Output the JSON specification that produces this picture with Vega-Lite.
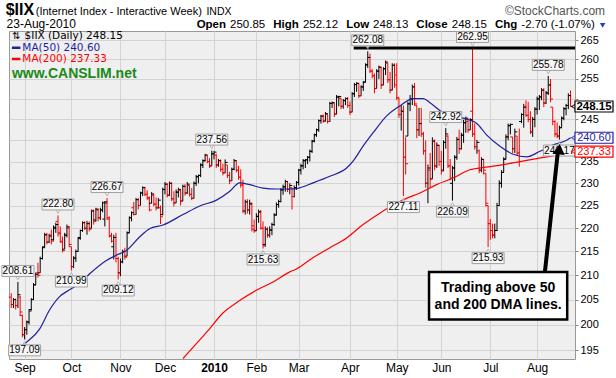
{
"$schema":"https://vega.github.io/schema/vega-lite/v6.json",
"width":566,"height":328,
"autosize":{"type":"none"},
"padding":{"left":9,"top":31,"right":41,"bottom":19},
"background":"#ffffff",
"config":{
 "view":{"fill":"#efefef","stroke":"#999999"},
 "axis":{"gridColor":"#d3d3d3","domain":false,"labelFont":"Liberation Sans","labelColor":"#000000","title":null},
 "text":{"font":"Liberation Sans"}
},
"datasets":{
"px":[
{"i":0,"o":205.5,"h":206.3,"l":203.3,"c":204.0},
{"i":1,"o":204.0,"h":205.3,"l":203.3,"c":205.0},
{"i":2,"o":205.0,"h":205.2,"l":203.0,"c":203.8},
{"i":3,"o":203.8,"h":208.61,"l":203.3,"c":206.0},
{"i":4,"o":205.5,"h":205.8,"l":201.7,"c":202.5},
{"i":5,"o":201.8,"h":202.0,"l":197.5,"c":198.0},
{"i":6,"o":198.0,"h":199.5,"l":197.09,"c":199.0},
{"i":7,"o":199.0,"h":200.8,"l":198.0,"c":200.5},
{"i":8,"o":200.5,"h":203.0,"l":200.0,"c":202.7},
{"i":9,"o":203.0,"h":205.3,"l":202.8,"c":205.0},
{"i":10,"o":205.0,"h":208.4,"l":205.0,"c":208.0},
{"i":11,"o":208.0,"h":210.5,"l":208.0,"c":210.2},
{"i":12,"o":210.5,"h":212.6,"l":209.5,"c":210.0},
{"i":13,"o":210.5,"h":213.9,"l":210.5,"c":213.5},
{"i":14,"o":213.5,"h":216.0,"l":213.3,"c":215.8},
{"i":15,"o":216.0,"h":219.0,"l":215.8,"c":218.6},
{"i":16,"o":218.5,"h":219.0,"l":216.5,"c":217.0},
{"i":17,"o":217.0,"h":218.8,"l":216.8,"c":218.3},
{"i":18,"o":218.5,"h":219.7,"l":216.5,"c":217.2},
{"i":19,"o":217.5,"h":220.6,"l":217.3,"c":220.2},
{"i":20,"o":220.0,"h":221.2,"l":219.0,"c":220.8},
{"i":21,"o":221.5,"h":222.8,"l":218.2,"c":218.8},
{"i":22,"o":219.0,"h":220.4,"l":216.9,"c":217.2},
{"i":23,"o":217.0,"h":218.2,"l":214.8,"c":215.2},
{"i":24,"o":215.5,"h":219.0,"l":215.5,"c":218.5},
{"i":25,"o":218.5,"h":220.8,"l":218.0,"c":220.3},
{"i":26,"o":220.0,"h":220.4,"l":216.0,"c":216.5},
{"i":27,"o":216.0,"h":216.0,"l":210.99,"c":211.8},
{"i":28,"o":211.8,"h":214.0,"l":211.5,"c":213.6},
{"i":29,"o":213.6,"h":215.4,"l":212.8,"c":215.0},
{"i":30,"o":215.0,"h":218.0,"l":215.0,"c":217.8},
{"i":31,"o":218.0,"h":219.7,"l":217.5,"c":219.5},
{"i":32,"o":219.5,"h":221.5,"l":219.2,"c":221.2},
{"i":33,"o":221.2,"h":221.5,"l":219.6,"c":220.0},
{"i":34,"o":220.0,"h":221.6,"l":218.6,"c":221.0},
{"i":35,"o":221.0,"h":221.5,"l":219.3,"c":219.8},
{"i":36,"o":220.0,"h":224.1,"l":220.0,"c":223.8},
{"i":37,"o":223.8,"h":224.1,"l":220.8,"c":221.5},
{"i":38,"o":221.8,"h":224.5,"l":221.5,"c":224.2},
{"i":39,"o":224.0,"h":224.3,"l":221.5,"c":222.3},
{"i":40,"o":222.3,"h":224.5,"l":221.8,"c":224.0},
{"i":41,"o":224.0,"h":225.9,"l":223.5,"c":225.6},
{"i":42,"o":222.0,"h":226.0,"l":220.4,"c":225.8},
{"i":43,"o":225.5,"h":226.67,"l":221.9,"c":222.3},
{"i":44,"o":222.0,"h":222.6,"l":218.0,"c":218.4},
{"i":45,"o":218.3,"h":219.0,"l":216.9,"c":217.2},
{"i":46,"o":216.0,"h":218.6,"l":213.3,"c":218.0},
{"i":47,"o":218.0,"h":219.0,"l":212.7,"c":213.5},
{"i":48,"o":213.5,"h":213.9,"l":209.12,"c":210.5},
{"i":49,"o":210.5,"h":213.5,"l":209.8,"c":212.8},
{"i":50,"o":212.8,"h":215.4,"l":212.5,"c":215.0},
{"i":51,"o":215.0,"h":215.8,"l":213.3,"c":213.8},
{"i":52,"o":214.0,"h":219.3,"l":214.0,"c":219.0},
{"i":53,"o":219.0,"h":222.6,"l":219.0,"c":222.3},
{"i":54,"o":222.3,"h":223.7,"l":221.5,"c":223.4},
{"i":55,"o":224.5,"h":225.8,"l":222.8,"c":223.0},
{"i":56,"o":223.0,"h":226.7,"l":223.0,"c":226.3},
{"i":57,"o":226.3,"h":226.7,"l":224.1,"c":225.0},
{"i":58,"o":225.0,"h":228.1,"l":225.0,"c":227.8},
{"i":59,"o":227.8,"h":229.3,"l":227.1,"c":229.0},
{"i":60,"o":229.0,"h":229.2,"l":227.1,"c":227.5},
{"i":61,"o":227.5,"h":228.4,"l":226.3,"c":226.8},
{"i":62,"o":226.5,"h":227.0,"l":223.7,"c":224.0},
{"i":63,"o":225.5,"h":228.0,"l":225.5,"c":227.6},
{"i":64,"o":227.3,"h":227.5,"l":224.8,"c":225.3},
{"i":65,"o":225.3,"h":226.8,"l":223.9,"c":224.5},
{"i":66,"o":224.5,"h":226.7,"l":224.3,"c":226.2},
{"i":67,"o":224.5,"h":225.0,"l":220.9,"c":222.5},
{"i":68,"o":223.0,"h":229.0,"l":222.8,"c":228.6},
{"i":69,"o":228.6,"h":230.3,"l":227.5,"c":229.8},
{"i":70,"o":229.8,"h":230.0,"l":226.8,"c":227.3},
{"i":71,"o":227.3,"h":230.4,"l":227.1,"c":230.0},
{"i":72,"o":230.0,"h":230.2,"l":226.0,"c":226.5},
{"i":73,"o":226.5,"h":228.2,"l":224.8,"c":225.6},
{"i":74,"o":225.6,"h":228.6,"l":225.6,"c":228.0},
{"i":75,"o":228.0,"h":229.0,"l":226.8,"c":228.6},
{"i":76,"o":228.4,"h":228.6,"l":225.0,"c":226.0},
{"i":77,"o":226.0,"h":229.7,"l":226.0,"c":229.3},
{"i":78,"o":229.3,"h":229.8,"l":227.2,"c":227.8},
{"i":79,"o":227.8,"h":230.3,"l":227.6,"c":229.8},
{"i":80,"o":229.5,"h":229.5,"l":227.0,"c":227.5},
{"i":81,"o":227.5,"h":228.9,"l":226.2,"c":226.6},
{"i":82,"o":226.6,"h":230.4,"l":226.6,"c":230.0},
{"i":83,"o":230.0,"h":231.9,"l":229.4,"c":231.5},
{"i":84,"o":231.5,"h":232.0,"l":230.0,"c":231.8},
{"i":85,"o":231.8,"h":234.6,"l":231.4,"c":234.2},
{"i":86,"o":234.2,"h":235.5,"l":233.5,"c":235.2},
{"i":87,"o":235.2,"h":236.8,"l":235.0,"c":236.5},
{"i":88,"o":236.5,"h":236.5,"l":234.6,"c":235.0},
{"i":89,"o":235.0,"h":235.8,"l":233.5,"c":234.0},
{"i":90,"o":234.0,"h":237.56,"l":234.0,"c":236.8},
{"i":91,"o":236.8,"h":237.5,"l":235.5,"c":237.2},
{"i":92,"o":236.5,"h":236.8,"l":233.5,"c":234.2},
{"i":93,"o":234.2,"h":235.6,"l":233.8,"c":235.2},
{"i":94,"o":235.2,"h":235.5,"l":232.6,"c":233.2},
{"i":95,"o":233.2,"h":234.5,"l":231.8,"c":232.4},
{"i":96,"o":232.4,"h":235.5,"l":232.4,"c":234.8},
{"i":97,"o":234.2,"h":234.2,"l":231.2,"c":231.8},
{"i":98,"o":231.8,"h":232.6,"l":229.8,"c":230.6},
{"i":99,"o":230.6,"h":233.6,"l":230.5,"c":233.2},
{"i":100,"o":233.2,"h":235.6,"l":233.0,"c":235.2},
{"i":101,"o":235.2,"h":235.3,"l":232.5,"c":233.0},
{"i":102,"o":233.0,"h":234.0,"l":230.8,"c":231.4},
{"i":103,"o":231.4,"h":233.2,"l":229.0,"c":229.6},
{"i":104,"o":229.6,"h":230.8,"l":223.3,"c":223.8},
{"i":105,"o":223.8,"h":226.3,"l":223.0,"c":225.8},
{"i":106,"o":225.8,"h":226.4,"l":223.2,"c":224.0},
{"i":107,"o":224.0,"h":226.3,"l":223.0,"c":225.5},
{"i":108,"o":225.2,"h":225.6,"l":219.3,"c":219.8},
{"i":109,"o":220.5,"h":221.9,"l":219.0,"c":219.4},
{"i":110,"o":219.5,"h":223.3,"l":219.4,"c":222.6},
{"i":111,"o":222.6,"h":224.1,"l":221.2,"c":223.6},
{"i":112,"o":223.5,"h":224.0,"l":219.7,"c":220.0},
{"i":113,"o":220.0,"h":221.5,"l":215.63,"c":216.2},
{"i":114,"o":216.5,"h":220.4,"l":216.0,"c":219.8},
{"i":115,"o":219.8,"h":220.2,"l":217.9,"c":218.5},
{"i":116,"o":218.5,"h":220.4,"l":218.0,"c":219.6},
{"i":117,"o":219.6,"h":221.2,"l":218.5,"c":220.8},
{"i":118,"o":220.8,"h":223.3,"l":220.5,"c":222.9},
{"i":119,"o":222.9,"h":225.7,"l":222.8,"c":225.2},
{"i":120,"o":225.2,"h":226.3,"l":224.5,"c":225.9},
{"i":121,"o":225.9,"h":228.9,"l":225.7,"c":228.5},
{"i":122,"o":228.5,"h":229.7,"l":227.4,"c":229.2},
{"i":123,"o":229.2,"h":230.8,"l":228.1,"c":230.4},
{"i":124,"o":230.4,"h":230.5,"l":228.0,"c":228.6},
{"i":125,"o":228.6,"h":230.0,"l":227.5,"c":229.5},
{"i":126,"o":229.0,"h":229.0,"l":224.1,"c":227.0},
{"i":127,"o":227.0,"h":229.5,"l":226.8,"c":229.0},
{"i":128,"o":229.0,"h":230.5,"l":228.5,"c":230.2},
{"i":129,"o":230.2,"h":233.3,"l":229.5,"c":233.0},
{"i":130,"o":233.0,"h":234.5,"l":232.0,"c":234.0},
{"i":131,"o":234.0,"h":235.6,"l":233.2,"c":235.2},
{"i":132,"o":235.2,"h":235.6,"l":233.5,"c":235.4},
{"i":133,"o":235.4,"h":236.3,"l":234.4,"c":236.0},
{"i":134,"o":236.0,"h":237.8,"l":235.0,"c":237.4},
{"i":135,"o":237.4,"h":240.1,"l":237.0,"c":239.8},
{"i":136,"o":239.8,"h":241.6,"l":239.5,"c":241.3},
{"i":137,"o":241.3,"h":242.8,"l":240.8,"c":242.5},
{"i":138,"o":242.5,"h":245.0,"l":242.0,"c":244.7},
{"i":139,"o":244.7,"h":246.1,"l":244.0,"c":245.8},
{"i":140,"o":245.8,"h":246.2,"l":244.2,"c":244.6},
{"i":141,"o":244.6,"h":246.8,"l":244.5,"c":246.4},
{"i":142,"o":246.2,"h":246.2,"l":244.0,"c":244.5},
{"i":143,"o":244.5,"h":249.3,"l":244.4,"c":248.9},
{"i":144,"o":248.9,"h":249.4,"l":247.8,"c":249.1},
{"i":145,"o":249.0,"h":249.0,"l":245.6,"c":246.3},
{"i":146,"o":246.3,"h":251.0,"l":246.3,"c":250.5},
{"i":147,"o":250.5,"h":250.8,"l":248.2,"c":250.6},
{"i":148,"o":250.2,"h":250.2,"l":247.5,"c":248.2},
{"i":149,"o":248.2,"h":250.0,"l":247.6,"c":249.6},
{"i":150,"o":249.6,"h":250.4,"l":248.5,"c":250.1},
{"i":151,"o":250.1,"h":250.5,"l":247.8,"c":248.4},
{"i":152,"o":248.4,"h":249.4,"l":246.1,"c":246.8},
{"i":153,"o":246.8,"h":251.7,"l":246.8,"c":251.3},
{"i":154,"o":251.3,"h":254.0,"l":250.5,"c":253.6},
{"i":155,"o":253.6,"h":254.2,"l":251.8,"c":253.9},
{"i":156,"o":253.9,"h":253.9,"l":250.2,"c":250.8},
{"i":157,"o":250.8,"h":253.4,"l":250.8,"c":253.0},
{"i":158,"o":253.0,"h":254.5,"l":252.0,"c":254.2},
{"i":159,"o":254.2,"h":259.0,"l":254.2,"c":258.6},
{"i":160,"o":258.6,"h":262.08,"l":257.8,"c":260.5},
{"i":161,"o":260.5,"h":261.5,"l":256.5,"c":257.0},
{"i":162,"o":257.0,"h":257.5,"l":255.2,"c":255.8},
{"i":163,"o":255.8,"h":256.4,"l":251.4,"c":252.6},
{"i":164,"o":252.6,"h":257.5,"l":252.6,"c":257.0},
{"i":165,"o":257.0,"h":258.4,"l":255.0,"c":258.0},
{"i":166,"o":258.0,"h":258.0,"l":252.5,"c":253.5},
{"i":167,"o":253.5,"h":258.0,"l":253.5,"c":257.6},
{"i":168,"o":257.6,"h":259.7,"l":256.0,"c":259.3},
{"i":169,"o":259.0,"h":259.0,"l":254.0,"c":254.8},
{"i":170,"o":254.8,"h":256.8,"l":251.4,"c":252.2},
{"i":171,"o":252.2,"h":259.0,"l":252.2,"c":258.5},
{"i":172,"o":258.5,"h":259.0,"l":252.8,"c":253.5},
{"i":173,"o":256.0,"h":259.0,"l":249.7,"c":250.3},
{"i":174,"o":250.3,"h":250.3,"l":245.4,"c":246.2},
{"i":175,"o":246.2,"h":248.5,"l":242.3,"c":247.0},
{"i":176,"o":247.0,"h":248.4,"l":227.11,"c":236.0},
{"i":177,"o":236.0,"h":240.7,"l":232.0,"c":234.5},
{"i":178,"o":241.0,"h":249.3,"l":241.0,"c":248.8},
{"i":179,"o":248.8,"h":251.0,"l":247.0,"c":250.0},
{"i":180,"o":250.0,"h":253.6,"l":248.5,"c":253.0},
{"i":181,"o":253.0,"h":254.0,"l":248.3,"c":248.8},
{"i":182,"o":248.5,"h":248.5,"l":240.5,"c":242.5},
{"i":183,"o":242.5,"h":247.8,"l":241.0,"c":244.0},
{"i":184,"o":244.0,"h":247.8,"l":240.8,"c":241.5},
{"i":185,"o":241.5,"h":242.0,"l":236.6,"c":237.5},
{"i":186,"o":237.5,"h":240.0,"l":229.0,"c":230.0},
{"i":187,"o":230.0,"h":234.3,"l":225.5,"c":233.5},
{"i":188,"o":233.0,"h":237.0,"l":229.0,"c":231.0},
{"i":189,"o":231.0,"h":240.7,"l":231.0,"c":239.8},
{"i":190,"o":239.8,"h":240.2,"l":233.0,"c":234.0},
{"i":191,"o":234.0,"h":239.5,"l":233.5,"c":238.8},
{"i":192,"o":238.8,"h":238.9,"l":234.0,"c":235.0},
{"i":193,"o":235.0,"h":237.5,"l":232.0,"c":232.8},
{"i":194,"o":233.0,"h":240.0,"l":232.8,"c":239.5},
{"i":195,"o":239.5,"h":242.92,"l":238.0,"c":241.5},
{"i":196,"o":241.0,"h":241.2,"l":233.5,"c":234.0},
{"i":197,"o":234.0,"h":235.6,"l":230.7,"c":231.2},
{"i":198,"o":230.0,"h":234.0,"l":226.09,"c":233.5},
{"i":199,"o":233.5,"h":236.5,"l":230.5,"c":236.0},
{"i":200,"o":236.0,"h":240.8,"l":235.4,"c":240.2},
{"i":201,"o":240.2,"h":242.5,"l":236.8,"c":238.0},
{"i":202,"o":238.0,"h":241.8,"l":237.8,"c":241.2},
{"i":203,"o":241.2,"h":244.9,"l":239.4,"c":244.2},
{"i":204,"o":244.2,"h":245.7,"l":241.8,"c":245.3},
{"i":205,"o":244.5,"h":244.9,"l":241.8,"c":242.5},
{"i":206,"o":242.5,"h":245.3,"l":242.5,"c":245.0},
{"i":207,"o":247.0,"h":262.95,"l":240.8,"c":241.5},
{"i":208,"o":241.5,"h":244.0,"l":237.8,"c":238.5},
{"i":209,"o":238.5,"h":240.1,"l":236.8,"c":239.5},
{"i":210,"o":237.5,"h":237.8,"l":232.3,"c":233.0},
{"i":211,"o":233.0,"h":236.0,"l":232.5,"c":235.5},
{"i":212,"o":235.5,"h":235.5,"l":232.0,"c":233.0},
{"i":213,"o":232.3,"h":232.3,"l":224.8,"c":225.5},
{"i":214,"o":225.0,"h":225.0,"l":215.93,"c":221.0},
{"i":215,"o":221.0,"h":222.0,"l":217.5,"c":219.5},
{"i":216,"o":219.5,"h":221.0,"l":217.8,"c":218.5},
{"i":217,"o":218.5,"h":221.0,"l":217.8,"c":219.5},
{"i":218,"o":219.5,"h":225.6,"l":219.4,"c":225.0},
{"i":219,"o":225.0,"h":230.7,"l":225.0,"c":230.0},
{"i":220,"o":230.0,"h":233.0,"l":229.0,"c":232.5},
{"i":221,"o":232.5,"h":236.0,"l":232.5,"c":235.5},
{"i":222,"o":235.6,"h":241.4,"l":235.6,"c":240.8},
{"i":223,"o":240.8,"h":244.0,"l":240.0,"c":243.5},
{"i":224,"o":243.5,"h":244.0,"l":241.4,"c":243.8},
{"i":225,"o":240.8,"h":240.8,"l":237.0,"c":238.0},
{"i":226,"o":238.0,"h":242.8,"l":237.0,"c":242.0},
{"i":227,"o":241.0,"h":241.0,"l":236.5,"c":237.0},
{"i":228,"o":237.0,"h":242.8,"l":233.8,"c":235.0},
{"i":229,"o":244.5,"h":246.5,"l":244.1,"c":246.2},
{"i":230,"o":246.2,"h":248.8,"l":243.0,"c":248.0},
{"i":231,"o":248.0,"h":249.7,"l":245.6,"c":246.0},
{"i":232,"o":246.0,"h":249.3,"l":244.3,"c":245.0},
{"i":233,"o":245.0,"h":247.0,"l":241.5,"c":242.0},
{"i":234,"o":242.0,"h":245.6,"l":240.8,"c":245.0},
{"i":235,"o":245.0,"h":248.0,"l":243.1,"c":247.5},
{"i":236,"o":247.5,"h":250.6,"l":246.2,"c":250.0},
{"i":237,"o":250.0,"h":251.0,"l":247.3,"c":250.5},
{"i":238,"o":250.5,"h":252.7,"l":249.7,"c":252.2},
{"i":239,"o":252.2,"h":252.7,"l":248.0,"c":249.0},
{"i":240,"o":249.0,"h":252.0,"l":248.8,"c":251.5},
{"i":241,"o":251.5,"h":255.78,"l":251.0,"c":253.5},
{"i":242,"o":253.5,"h":255.0,"l":249.2,"c":250.0},
{"i":243,"o":248.0,"h":248.0,"l":243.6,"c":244.5},
{"i":244,"o":244.5,"h":244.8,"l":240.8,"c":241.5},
{"i":245,"o":241.5,"h":244.3,"l":240.5,"c":241.0},
{"i":246,"o":241.0,"h":243.5,"l":240.17,"c":243.0},
{"i":247,"o":243.0,"h":245.7,"l":243.0,"c":245.3},
{"i":248,"o":245.3,"h":248.0,"l":244.8,"c":247.6},
{"i":249,"o":247.6,"h":248.8,"l":246.0,"c":248.4},
{"i":250,"o":248.4,"h":251.4,"l":247.5,"c":250.85},
{"i":251,"o":250.85,"h":252.12,"l":248.13,"c":248.15}
],
"ma50":[
{"i":0,"v":194.0},{"i":6.8,"v":196.5},{"i":12.7,"v":199.1},{"i":17.2,"v":202.9},{"i":21.7,"v":205.6},{"i":26.2,"v":207.0},{"i":30.7,"v":208.3},{"i":35.2,"v":210.3},{"i":42.7,"v":213.1},{"i":47.2,"v":214.2},{"i":51.7,"v":215.2},{"i":57.6,"v":218.1},{"i":62.1,"v":219.9},{"i":68.1,"v":220.7},{"i":77.1,"v":223.0},{"i":84.6,"v":224.9},{"i":92.1,"v":226.2},{"i":98.1,"v":228.2},{"i":102.5,"v":230.1},{"i":107,"v":229.7},{"i":113,"v":228.9},{"i":119,"v":228.7},{"i":125,"v":228.7},{"i":128,"v":228.8},{"i":135.5,"v":230.1},{"i":143,"v":231.6},{"i":150.5,"v":233.5},{"i":153.4,"v":235.1},{"i":157.9,"v":238.6},{"i":162.4,"v":241.8},{"i":168.4,"v":245.8},{"i":174.4,"v":248.3},{"i":180.4,"v":250.1},{"i":184.9,"v":250.1},{"i":187.9,"v":249.1},{"i":195.4,"v":246.1},{"i":202.8,"v":245.3},{"i":208.8,"v":244.1},{"i":213.3,"v":241.3},{"i":219.3,"v":238.6},{"i":225.3,"v":236.7},{"i":231.3,"v":236.1},{"i":237.3,"v":237.4},{"i":243.2,"v":238.9},{"i":249.2,"v":240.0},{"i":251,"v":240.6}
],
"ma200":[
{"i":77.1,"v":193.4},{"i":84.6,"v":197.0},{"i":88.3,"v":198.8},{"i":95.0,"v":202.3},{"i":102.5,"v":204.8},{"i":110,"v":206.9},{"i":117.5,"v":208.6},{"i":125,"v":210.7},{"i":128,"v":211.3},{"i":135.5,"v":213.7},{"i":143,"v":215.8},{"i":150.5,"v":217.9},{"i":157.9,"v":220.8},{"i":165.4,"v":223.3},{"i":171.4,"v":225.1},{"i":177.4,"v":226.6},{"i":183.4,"v":227.8},{"i":190.9,"v":229.7},{"i":198.3,"v":231.2},{"i":205.8,"v":233.1},{"i":213,"v":233.7},{"i":220.8,"v":234.3},{"i":228.3,"v":235.0},{"i":235.8,"v":235.7},{"i":243.2,"v":236.4},{"i":251,"v":237.33}
],
"lab":[
{"i":3,"v":208.61,"k":"hi"},{"i":21,"v":222.80,"k":"hi"},{"i":43,"v":226.67,"k":"hi"},{"i":90,"v":237.56,"k":"hi"},{"i":160,"v":262.08,"k":"hi"},{"i":195,"v":242.92,"k":"hi"},{"i":207,"v":262.95,"k":"hi"},{"i":241,"v":255.78,"k":"hi"},
{"i":6,"v":197.09,"k":"lo"},{"i":27,"v":210.99,"k":"lo"},{"i":48,"v":209.12,"k":"lo"},{"i":113,"v":215.63,"k":"lo"},{"i":176,"v":227.11,"k":"lo"},{"i":198,"v":226.09,"k":"lo"},{"i":214,"v":215.93,"k":"lo"},{"i":246,"v":240.17,"k":"lo"}
],
"rb":[{"s":"IIX","v":248.15},{"s":"MA50","v":240.60},{"s":"MA200","v":237.33}]
},
"layer":[
{"data":{"name":"px"},
 "transform":[{"window":[{"op":"lag","field":"c","as":"pc"}],"sort":[{"field":"i","order":"ascending"}]}],
 "encoding":{
  "x":{"field":"i","type":"quantitative","scale":{"domain":[-1,253],"nice":false,"zero":false},
   "axis":{"values":[6,27,49,69,91,110,129,152,173,193,215,236],
    "labelExpr":"datum.value==6?'Sep':datum.value==27?'Oct':datum.value==49?'Nov':datum.value==69?'Dec':datum.value==91?'2010':datum.value==110?'Feb':datum.value==129?'Mar':datum.value==152?'Apr':datum.value==173?'May':datum.value==193?'Jun':datum.value==215?'Jul':'Aug'",
    "labelFontWeight":{"condition":{"test":"datum.value==91","value":"bold"},"value":"normal"},
    "ticks":false,"tickSize":0,"labelPadding":3,"labelFontSize":12,"labelFlush":false,"grid":true}},
  "color":{"condition":{"test":"datum.pc == null ? datum.c < datum.o : datum.c < datum.pc","value":"#ff0000"},"value":"#000000"}
 },
 "layer":[
  {"mark":{"type":"rule","strokeWidth":1},
   "encoding":{"y":{"field":"l","type":"quantitative","scale":{"type":"log","domain":[193.3,267.4],"nice":false},
     "axis":{"orient":"right","values":[195,200,205,210,215,220,225,230,235,240,245,250,255,260,265],"format":"d","labelExpr":"datum.value==240||datum.value==250?'':datum.label","labelFontSize":11,"labelPadding":2,"tickSize":3,"tickColor":"#888888","grid":true}},
    "y2":{"field":"h"}}},
  {"mark":{"type":"rule","strokeWidth":1,"xOffset":-2.5},"encoding":{"x2":{"field":"i"},"y":{"field":"o","type":"quantitative"}}},
  {"mark":{"type":"rule","strokeWidth":1,"x2Offset":2.5},"encoding":{"x2":{"field":"i"},"y":{"field":"c","type":"quantitative"}}}
 ]},
{"data":{"name":"ma50"},"mark":{"type":"line","color":"#1f1f9e","strokeWidth":1.2,"interpolate":"monotone"},"encoding":{"x":{"field":"i","type":"quantitative"},"y":{"field":"v","type":"quantitative"}}},
{"data":{"name":"ma200"},"mark":{"type":"line","color":"#ff0000","strokeWidth":1.2,"interpolate":"monotone"},"encoding":{"x":{"field":"i","type":"quantitative"},"y":{"field":"v","type":"quantitative"}}},
{"data":{"values":[{}]},"mark":{"type":"rule","strokeWidth":3,"color":"#000000"},"encoding":{"x":{"datum":153.7},"x2":{"datum":253},"y":{"datum":262.95}}},
{"data":{"name":"lab"},"transform":[{"filter":"datum.k=='hi'"}],
 "encoding":{"x":{"field":"i","type":"quantitative"},"y":{"field":"v","type":"quantitative"}},
 "layer":[
  {"mark":{"type":"point","shape":"triangle-down","filled":true,"fill":"#f6f6f6","stroke":"#a0a0a0","strokeWidth":1,"size":20,"yOffset":-4}},
  {"mark":{"type":"rect","fill":"#f6f6f6","stroke":"#a0a0a0","strokeWidth":1,"xOffset":-16,"x2Offset":16,"yOffset":-16.5,"y2Offset":-5.5},"encoding":{"x2":{"field":"i"},"y2":{"field":"v"}}},
  {"mark":{"type":"text","fontSize":10,"dy":-11,"baseline":"middle","align":"center","color":"#000000"},"encoding":{"text":{"field":"v","type":"quantitative","format":".2f"}}}
 ]},
{"data":{"name":"lab"},"transform":[{"filter":"datum.k=='lo'"}],
 "encoding":{"x":{"field":"i","type":"quantitative"},"y":{"field":"v","type":"quantitative"}},
 "layer":[
  {"mark":{"type":"point","shape":"triangle-up","filled":true,"fill":"#f6f6f6","stroke":"#a0a0a0","strokeWidth":1,"size":20,"yOffset":4}},
  {"mark":{"type":"rect","fill":"#f6f6f6","stroke":"#a0a0a0","strokeWidth":1,"xOffset":-16,"x2Offset":16,"yOffset":5.5,"y2Offset":16.5},"encoding":{"x2":{"field":"i"},"y2":{"field":"v"}}},
  {"mark":{"type":"text","fontSize":10,"dy":11,"baseline":"middle","align":"center","color":"#000000"},"encoding":{"text":{"field":"v","type":"quantitative","format":".2f"}}}
 ]},
{"data":{"name":"rb"},
 "encoding":{"y":{"field":"v","type":"quantitative"},
   "color":{"field":"s","type":"nominal","scale":{"domain":["IIX","MA50","MA200"],"range":["#000000","#1f1f9e","#ff0000"]},"legend":null}},
 "layer":[
  {"mark":{"type":"point","shape":"triangle-left","filled":true,"fill":"#ffffff","strokeWidth":1.2,"size":30,"xOffset":-1},"encoding":{"x":{"datum":253},"stroke":{"field":"s","type":"nominal","scale":{"domain":["IIX","MA50","MA200"],"range":["#000000","#1f1f9e","#ff0000"]},"legend":null}}},
  {"mark":{"type":"rect","fill":"#ffffff","strokeWidth":1.2,"xOffset":0,"x2Offset":38,"yOffset":-5.5,"y2Offset":5.5},"encoding":{"x":{"datum":253},"x2":{"datum":253},"y2":{"field":"v"},"stroke":{"field":"s","type":"nominal","legend":null}}},
  {"transform":[{"filter":"datum.s=='IIX'"}],"mark":{"type":"text","fontSize":11.5,"fontWeight":"bold","dx":19,"align":"center","baseline":"middle"},"encoding":{"x":{"datum":253},"text":{"field":"v","type":"quantitative","format":".2f"}}},
  {"transform":[{"filter":"datum.s!='IIX'"}],"mark":{"type":"text","fontSize":11,"dx":19,"align":"center","baseline":"middle"},"encoding":{"x":{"datum":253},"text":{"field":"v","type":"quantitative","format":".2f"}}}
 ]},
{"data":{"values":[{}]},"mark":{"type":"rule","strokeWidth":4,"color":"#000000"},"encoding":{"x":{"datum":239.5},"y":{"datum":210.7},"x2":{"datum":245.2},"y2":{"datum":236.8}}},
{"data":{"values":[{}]},"mark":{"type":"point","shape":"triangle-up","filled":true,"color":"#000000","size":150,"angle":6,"opacity":1},"encoding":{"x":{"datum":245.9},"y":{"datum":237.9}}},
{"data":{"values":[{}]},"mark":{"type":"rect","fill":"#ffffff","stroke":"#000000","strokeWidth":2.5},"encoding":{"x":{"datum":187.5},"x2":{"datum":249.5},"y":{"datum":210.7},"y2":{"datum":201.0}}},
{"data":{"values":[{}]},"mark":{"type":"text","text":"Trading above 50","fontSize":14,"fontWeight":"bold","align":"center","baseline":"middle","color":"#000000"},"encoding":{"x":{"datum":218.5},"y":{"datum":207.4}}},
{"data":{"values":[{}]},"mark":{"type":"text","text":"and 200 DMA lines.","fontSize":14,"fontWeight":"bold","align":"center","baseline":"middle","color":"#000000"},"encoding":{"x":{"datum":218.5},"y":{"datum":204.0}}},
{"data":{"values":[{}]},"mark":{"type":"text","text":"⇅","fontSize":10,"align":"left","baseline":"middle","color":"#000000"},"encoding":{"x":{"datum":0.2},"y":{"datum":266.1}}},
{"data":{"values":[{}]},"mark":{"type":"text","text":"$IIX (Daily) 248.15","font":"DejaVu Sans","fontSize":10.5,"align":"left","baseline":"middle","color":"#000000"},"encoding":{"x":{"datum":6},"y":{"datum":266.1}}},
{"data":{"values":[{}]},"mark":{"type":"rule","strokeWidth":2.5,"color":"#1f1f9e"},"encoding":{"x":{"datum":0.3},"x2":{"datum":4.1},"y":{"datum":263.0}}},
{"data":{"values":[{}]},"mark":{"type":"text","text":"MA(50) 240.60","font":"DejaVu Sans","fontSize":10.5,"align":"left","baseline":"middle","color":"#1f1f9e"},"encoding":{"x":{"datum":5},"y":{"datum":263.0}}},
{"data":{"values":[{}]},"mark":{"type":"rule","strokeWidth":2.5,"color":"#ff0000"},"encoding":{"x":{"datum":0.3},"x2":{"datum":4.1},"y":{"datum":260.1}}},
{"data":{"values":[{}]},"mark":{"type":"text","text":"MA(200) 237.33","font":"DejaVu Sans","fontSize":10.5,"align":"left","baseline":"middle","color":"#ff0000"},"encoding":{"x":{"datum":5},"y":{"datum":260.1}}},
{"data":{"values":[{}]},"mark":{"type":"text","text":"www.CANSLIM.net","fontSize":14,"fontWeight":"bold","align":"left","baseline":"middle","color":"#1a8a1a"},"encoding":{"x":{"datum":0.3},"y":{"datum":256.3}}},
{"data":{"values":[{}]},"mark":{"type":"text","text":"$IIX","fontSize":16,"fontWeight":"bold","align":"left","baseline":"alphabetic","color":"#000000"},"encoding":{"x":{"datum":-2.5},"y":{"datum":271.6}}},
{"data":{"values":[{}]},"mark":{"type":"text","text":"(Internet Index - Interactive Week)","fontSize":11,"align":"left","baseline":"alphabetic","color":"#000000"},"encoding":{"x":{"datum":11.0},"y":{"datum":271.6}}},
{"data":{"values":[{}]},"mark":{"type":"text","text":"INDX","fontSize":10.5,"align":"left","baseline":"alphabetic","color":"#000000"},"encoding":{"x":{"datum":87.6},"y":{"datum":271.6}}},
{"data":{"values":[{}]},"mark":{"type":"text","text":"©StockCharts.com","fontSize":12,"align":"right","baseline":"alphabetic","color":"#555555"},"encoding":{"x":{"datum":266.5},"y":{"datum":271.6}}},
{"data":{"values":[{}]},"mark":{"type":"text","text":"23-Aug-2010","fontSize":12,"align":"left","baseline":"alphabetic","color":"#000000"},"encoding":{"x":{"datum":-2.1},"y":{"datum":268.3}}},
{"data":{"values":[{}]},"mark":{"type":"text","text":"Open","fontSize":11.5,"fontWeight":"bold","align":"left","baseline":"alphabetic","color":"#000000"},"encoding":{"x":{"datum":83.2},"y":{"datum":268.3}}},
{"data":{"values":[{}]},"mark":{"type":"text","text":"250.85","fontSize":11.5,"align":"left","baseline":"alphabetic","color":"#000000"},"encoding":{"x":{"datum":98.2},"y":{"datum":268.3}}},
{"data":{"values":[{}]},"mark":{"type":"text","text":"High","fontSize":11.5,"fontWeight":"bold","align":"left","baseline":"alphabetic","color":"#000000"},"encoding":{"x":{"datum":117.6},"y":{"datum":268.3}}},
{"data":{"values":[{}]},"mark":{"type":"text","text":"252.12","fontSize":11.5,"align":"left","baseline":"alphabetic","color":"#000000"},"encoding":{"x":{"datum":130.9},"y":{"datum":268.3}}},
{"data":{"values":[{}]},"mark":{"type":"text","text":"Low","fontSize":11.5,"fontWeight":"bold","align":"left","baseline":"alphabetic","color":"#000000"},"encoding":{"x":{"datum":150.3},"y":{"datum":268.3}}},
{"data":{"values":[{}]},"mark":{"type":"text","text":"248.13","fontSize":11.5,"align":"left","baseline":"alphabetic","color":"#000000"},"encoding":{"x":{"datum":162.4},"y":{"datum":268.3}}},
{"data":{"values":[{}]},"mark":{"type":"text","text":"Close","fontSize":11.5,"fontWeight":"bold","align":"left","baseline":"alphabetic","color":"#000000"},"encoding":{"x":{"datum":181.8},"y":{"datum":268.3}}},
{"data":{"values":[{}]},"mark":{"type":"text","text":"248.15","fontSize":11.5,"align":"left","baseline":"alphabetic","color":"#000000"},"encoding":{"x":{"datum":197.7},"y":{"datum":268.3}}},
{"data":{"values":[{}]},"mark":{"type":"text","text":"Chg","fontSize":11.5,"fontWeight":"bold","align":"left","baseline":"alphabetic","color":"#000000"},"encoding":{"x":{"datum":217.1},"y":{"datum":268.3}}},
{"data":{"values":[{}]},"mark":{"type":"text","text":"-2.70 (-1.07%)","fontSize":11.5,"align":"left","baseline":"alphabetic","color":"#000000"},"encoding":{"x":{"datum":228.9},"y":{"datum":268.3}}},
{"data":{"values":[{}]},"mark":{"type":"point","shape":"triangle-down","filled":true,"color":"#1a3fd0","size":30,"opacity":1},"encoding":{"x":{"datum":265.4},"y":{"datum":268.9}}}
]
}
